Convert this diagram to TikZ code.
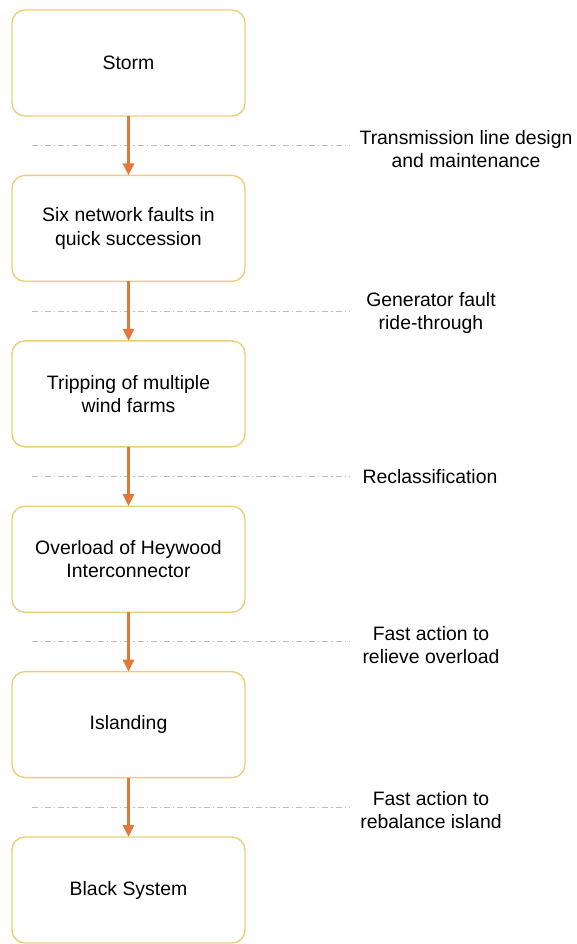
\documentclass[tikz,border=0pt]{standalone}
\usepackage{fontspec}
\setmainfont{Liberation Sans}
\usetikzlibrary{arrows.meta, positioning, calc}
\definecolor{boxGold}{HTML}{EBCF78}
\definecolor{flowOrange}{HTML}{E0783A}
\definecolor{sepGray}{HTML}{BDBDBD}

\begin{document}
\begin{tikzpicture}[
        node distance=29.7pt,
        font=\fontsize{9.7}{11.6}\selectfont,
        stage/.style={
            rectangle, rounded corners=6.5pt, draw=boxGold, line width=0.7pt,
            fill=white, minimum width=116.5pt, minimum height=53pt,
            align=center, outer sep=0pt, inner sep=2pt
        },
        barrier/.style={
            align=center, inner sep=0pt
        },
        flow/.style={
            line width=1.5pt, draw=flowOrange, -{Triangle[length=6pt, width=5.5pt]}
        },
        sepline/.style={
            draw=sepGray, line width=0.5pt, dash pattern=on 3pt off 1.5pt on 0.6pt off 1.5pt
        }
    ]
        \useasboundingbox (0,0) rectangle (288.5pt,-472pt);

        % Event Chain
        \node (storm) [stage] at (64.25pt,-31.5pt) {Storm};
        \node (faults) [stage, below=of storm] {Six network faults in\\quick succession};
        \node (tripping) [stage, below=of faults] {Tripping of multiple\\wind farms};
        \node (overload) [stage, below=of tripping] {Overload of Heywood\\Interconnector};
        \node (islanding) [stage, below=of overload] {Islanding};
        \node (blackout) [stage, below=of islanding] {Black System};

        % Separators
        \coordinate (g1) at ($(storm.south)!0.5!(faults.north)$);
        \coordinate (g2) at ($(faults.south)!0.5!(tripping.north)$);
        \coordinate (g3) at ($(tripping.south)!0.5!(overload.north)$);
        \coordinate (g4) at ($(overload.south)!0.5!(islanding.north)$);
        \coordinate (g5) at ($(islanding.south)!0.5!(blackout.north)$);
        \foreach \g in {g1,g2,g3,g4,g5}
            \draw [sepline] ($(\g)+(-48.25pt,0)$) -- ($(\g)+(110.75pt,0)$);

        % Mitigation Labels
        \node (design) [barrier] at ($(g1)+(168.75pt,-1.5pt)$) {Transmission line design\\and maintenance};
        \node (ridethrough) [barrier] at ($(g2)+(151.25pt,-1pt)$) {Generator fault\\ride-through};
        \node (reclass) [barrier] at ($(g3)+(150.75pt,0pt)$) {Reclassification};
        \node (relieve) [barrier] at ($(g4)+(151.25pt,-1.5pt)$) {Fast action to\\relieve overload};
        \node (rebalance) [barrier] at ($(g5)+(151.25pt,-1.5pt)$) {Fast action to\\rebalance island};

        % Connectors
        \draw [flow] (storm) -- (faults);
        \draw [flow] (faults) -- (tripping);
        \draw [flow] (tripping) -- (overload);
        \draw [flow] (overload) -- (islanding);
        \draw [flow] (islanding) -- (blackout);
    \end{tikzpicture}
\end{document}
